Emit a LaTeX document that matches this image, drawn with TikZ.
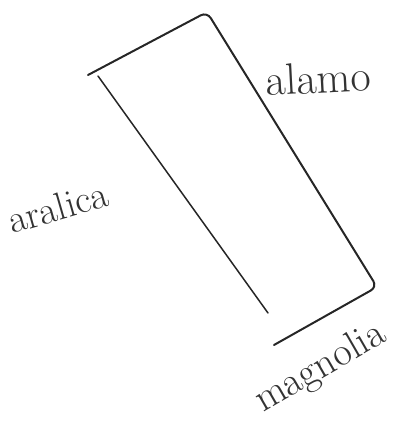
\documentclass[tikz,border=0pt]{standalone}
\usepackage{fontspec}
\begin{document}
\begin{tikzpicture}[x=1pt,y=-1pt,
  pen/.style={draw=black!85,line width=2pt,line cap=round,line join=round},
  hand/.style={text=black!80,font=\fontsize{#1}{#1}\selectfont,inner sep=0pt},
  hand/.default=42]
\useasboundingbox (0,0) rectangle (415,424);
% corners
\coordinate (tl) at (88,75);
\coordinate (tr) at (207,12);
\coordinate (br) at (377,287);
\coordinate (bb) at (274,345);
\coordinate (ls) at (98,76);
\coordinate (le) at (268,313);
\draw[pen,rounded corners=7pt] (tl) -- (tr) -- (br) -- (bb);
\draw[pen,line width=1.5pt] (ls) -- (le);
% labels
\node[hand=44,anchor=base west,rotate=3] (alamo) at (266,96) {alamo};
\node[hand=39,anchor=base west,rotate=16] (aralica) at (12,234) {aralica};
\node[hand=40,anchor=base west,rotate=30] (magnolia) at (263,413) {magnolia};
\end{tikzpicture}
\end{document}
